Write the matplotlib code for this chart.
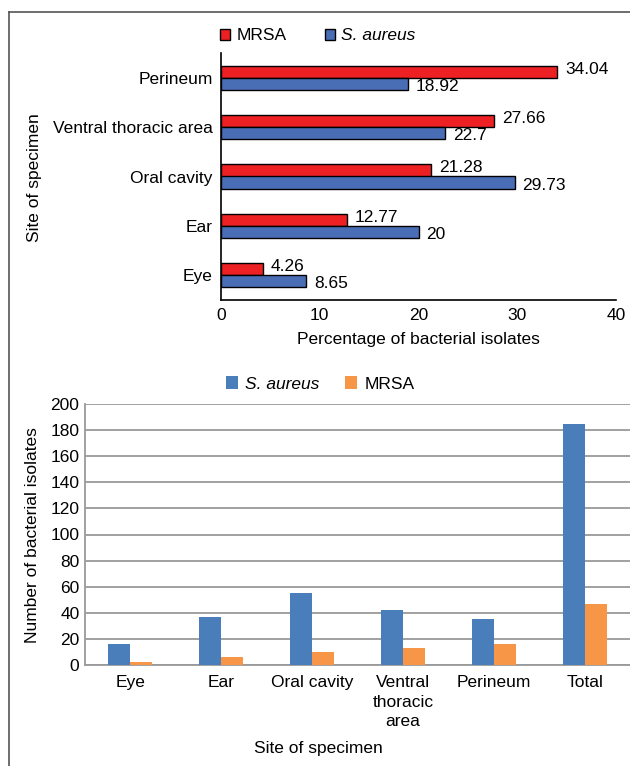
import matplotlib.pyplot as plt
import numpy as np
from matplotlib.patches import Patch
from matplotlib.lines import Line2D

plt.rcParams['font.family'] = ['Liberation Sans', 'DejaVu Sans']
fs = 12.5

# percentages by site (top chart, bottom-to-top order)
sites_pct = ['Eye', 'Ear', 'Oral cavity', 'Ventral thoracic area', 'Perineum']
mrsa_pct = [4.26, 12.77, 21.28, 27.66, 34.04]
saureus_pct = [8.65, 20, 29.73, 22.7, 18.92]

# isolate counts (bottom chart)
sites_n = ['Eye', 'Ear', 'Oral cavity', 'Ventral\nthoracic\narea', 'Perineum', 'Total']
saureus_n = [16, 37, 55, 42, 35, 185]
mrsa_n = [2, 6, 10, 13, 16, 47]

W, H = 630, 766
fig = plt.figure(figsize=(W / 100, H / 100), dpi=100)

def box(l, t, r, b):
    return [l / W, 1 - b / H, (r - l) / W, (b - t) / H]

# outer frame (left and top edge only)
fig.add_artist(Line2D([9 / W, 9 / W], [0, 1 - 12 / H], color='#555555', lw=1.2))
fig.add_artist(Line2D([9 / W, 1], [1 - 12 / H, 1 - 12 / H], color='#555555', lw=1.2))

# ---- top: horizontal bars of percentages ----
red = '#ED2024'
blue1 = '#4A6EB5'
ax1 = fig.add_axes(box(221, 53, 616, 300))
y = np.arange(len(sites_pct))
h = 0.245
ax1.barh(y + h / 2, mrsa_pct, height=h, color=red, edgecolor='black', linewidth=1)
ax1.barh(y - h / 2, saureus_pct, height=h, color=blue1, edgecolor='black', linewidth=1)
for i in range(len(y)):
    ax1.text(mrsa_pct[i] + 0.8, y[i] + h / 2 + 0.05, f'{mrsa_pct[i]:g}', va='center', fontsize=fs)
    ax1.text(saureus_pct[i] + 0.8, y[i] - h / 2 - 0.05, f'{saureus_pct[i]:g}', va='center', fontsize=fs)
ax1.set_xlim(0, 40)
ax1.set_ylim(-0.5, 4.5)
ax1.set_xticks([0, 10, 20, 30, 40])
ax1.set_yticks(y)
ax1.set_yticklabels(sites_pct)
ax1.tick_params(length=0, labelsize=fs, pad=6)
for s in ['top', 'right']:
    ax1.spines[s].set_visible(False)
ax1.spines['left'].set_linewidth(1.2)
ax1.spines['bottom'].set_linewidth(1.2)
ax1.set_xlabel('Percentage of bacterial isolates', fontsize=fs, labelpad=6)
fig.text(35 / W, 1 - 178 / H, 'Site of specimen', rotation=90, ha='center', va='center', fontsize=fs)

leg1 = fig.legend(handles=[Patch(facecolor=red, edgecolor='black', label='MRSA'),
                           Patch(facecolor=blue1, edgecolor='black', label='S. aureus')],
                  loc='center', bbox_to_anchor=(318 / W, 1 - 36 / H), ncol=2, frameon=False,
                  handlelength=0.55, handleheight=0.55, handletextpad=0.4, columnspacing=2.2,
                  fontsize=fs)
leg1.get_texts()[1].set_fontstyle('italic')

# ---- bottom: vertical bars of counts ----
blue2 = '#4A7EBB'
orange = '#F79646'
ax2 = fig.add_axes(box(85, 404, 630, 665))
x = np.arange(len(sites_n))
w = 0.242
ax2.bar(x - w / 2, saureus_n, width=w, color=blue2, zorder=3)
ax2.bar(x + w / 2, mrsa_n, width=w, color=orange, zorder=3)
ax2.set_xlim(-0.5, len(x) - 0.5)
ax2.set_ylim(0, 200)
ax2.set_yticks(range(0, 201, 20))
ax2.set_xticks(x)
ax2.set_xticklabels(sites_n, linespacing=1.4)
ax2.yaxis.grid(True, color='#9a9a9a', linewidth=1.3, zorder=0)
ax2.tick_params(length=0, labelsize=fs)
ax2.tick_params(axis='y', pad=4)
ax2.tick_params(axis='x', pad=7)
for s in ['top', 'right']:
    ax2.spines[s].set_visible(False)
ax2.spines['left'].set_color('#9a9a9a')
ax2.spines['bottom'].set_color('#9a9a9a')
ax2.spines['left'].set_linewidth(1.3)
ax2.spines['bottom'].set_linewidth(1.3)
fig.text(318 / W, 1 - 748 / H, 'Site of specimen', ha='center', va='center', fontsize=fs)
fig.text(33 / W, 1 - 535 / H, 'Number of bacterial isolates', rotation=90, ha='center', va='center', fontsize=fs)

leg2 = fig.legend(handles=[Patch(facecolor=blue2, label='S. aureus'),
                           Patch(facecolor=orange, label='MRSA')],
                  loc='center', bbox_to_anchor=(320 / W, 1 - 384 / H), ncol=2, frameon=False,
                  handlelength=0.7, handleheight=0.7, handletextpad=0.4, columnspacing=1.5,
                  fontsize=fs)
leg2.get_texts()[0].set_fontstyle('italic')

fig.savefig('out.png', dpi=100)
